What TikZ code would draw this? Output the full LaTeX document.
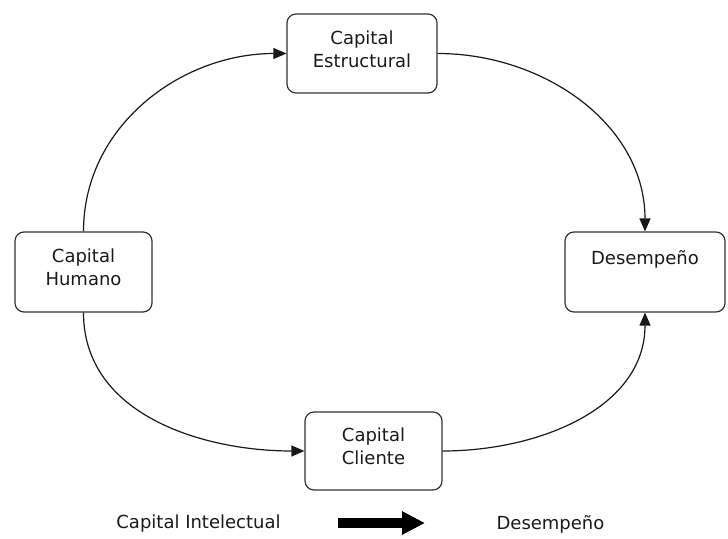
\documentclass[tikz,border=0pt]{standalone}
\usepackage{fontspec}
\setmainfont{DejaVu Sans}
\usetikzlibrary{arrows.meta}

\begin{document}
\begin{tikzpicture}[x=1pt,y=-1pt,
  box/.style={draw=black!80,line width=1.2pt,rounded corners=9pt,align=center,
    font=\fontsize{18}{23}\selectfont,text=black!90,text depth=9pt},
  flow/.style={-{Triangle[length=13pt,width=11pt]},line width=1.2pt,black!90},
  lbl/.style={font=\fontsize{18}{23}\selectfont,text=black!90}]
  \useasboundingbox (0,0) rectangle (728,538);

  % the four blocks
  \node[box,minimum width=150pt,minimum height=79pt] (est) at (362,53.5) {Capital\\Estructural};
  \node[box,minimum width=137pt,minimum height=80pt] (hum) at (83.5,272) {Capital\\Humano};
  \node[box,minimum width=160pt,minimum height=80pt,text depth=29pt] (des) at (645,272) {Desempeño};
  \node[box,minimum width=137pt,minimum height=78pt] (cli) at (373.5,451) {Capital\\Cliente};

  % curved links round the cycle
  \draw[flow] (hum.north) to[out=90,in=180] (est.west);
  \draw[flow] (est.east) to[out=0,in=90] (des.north);
  \draw[flow] (hum.south) to[out=-90,in=180] (cli.west);
  \draw[flow] (cli.east) to[out=0,in=-90] (des.south);

  % legend line at the bottom
  \node[lbl] (ci) at (198.5,524) {Capital Intelectual};
  \node[lbl] (dp) at (550.5,524) {Desempeño};
  \coordinate (a0) at (338,523);
  \coordinate (a1) at (425,523);
  \draw[line width=10pt,-{Triangle[length=23pt,width=22pt]}] (a0) -- (a1);
\end{tikzpicture}
\end{document}
